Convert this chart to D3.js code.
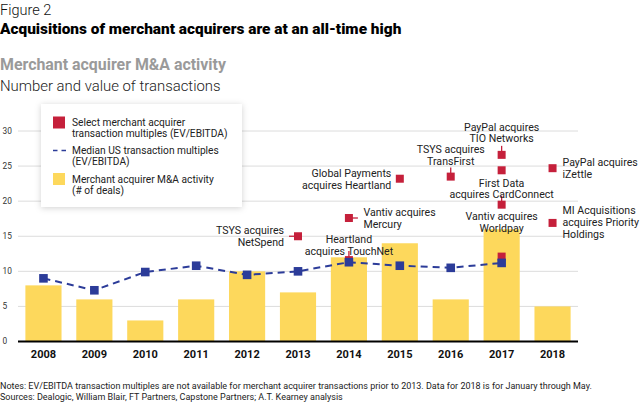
<!DOCTYPE html>
<html>
<head>
<meta charset="utf-8">
<script src="https://cdn.jsdelivr.net/npm/d3@7"></script>
<style>
  body { margin: 0; background: #fff; }
  svg { display: block; font-family: Roboto, "Noto Sans", sans-serif; }
</style>
</head>
<body>
<div class="container"></div>
<script>
// merchant acquirer M&A chart

const years = [2008, 2009, 2010, 2011, 2012, 2013, 2014, 2015, 2016, 2017, 2018];
const deals = [8, 6, 3, 6, 10, 7, 12, 14, 6, 16, 5];
const medianYears = [2008, 2009, 2010, 2011, 2012, 2013, 2014, 2015, 2016, 2017];
const medianValues = [9, 7.3, 9.9, 10.8, 9.5, 10, 11.3, 10.8, 10.5, 11.2];
const yTicks = [0, 5, 10, 15, 20, 25, 30];

// select transaction multiples (EV/EBITDA)
const multYears = [2013, 2014, 2014, 2015, 2016, 2017, 2017, 2017, 2017, 2018, 2018];
const multValues = [15, 11.6, 17.6, 23.2, 23.5, 26.6, 24.4, 19.5, 12.1, 24.7, 16.9];
const multLabels = [
  ["TSYS acquires", "NetSpend"],
  ["Heartland", "acquires TouchNet"],
  ["Vantiv acquires", "Mercury"],
  ["Global Payments", "acquires Heartland"],
  ["TSYS acquires", "TransFirst"],
  ["PayPal acquires", "TIO Networks"],
  [],
  ["First Data", "acquires CardConnect"],
  ["Vantiv acquires", "Worldpay"],
  ["PayPal acquires", "iZettle"],
  ["MI Acquisitions", "acquires Priority", "Holdings"],
];

// label layout for each multiple: side, offsets of first line, leader stub
const labelLayout = [
  { anchor: "end", dx: -14, dy: -5.5, stub: "left" },
  { anchor: "middle", dx: 0, dy: -21, stub: "up" },
  { anchor: "start", dx: 14.5, dy: -5.6, stub: "right" },
  { anchor: "end", dx: -8.5, dy: -5.1, stub: null },
  { anchor: "middle", dx: 0, dy: -27, stub: "up" },
  { anchor: "middle", dx: 0, dy: -28, stub: "up" },
  { anchor: "middle", dx: 0, dy: 0, stub: null },
  { anchor: "middle", dx: 0, dy: -21.7, stub: "up" },
  { anchor: "middle", dx: 0, dy: -40, stub: null },
  { anchor: "start", dx: 10, dy: -5.9, stub: null },
  { anchor: "start", dx: 10, dy: -12.2, stub: null },
];

const w = 640, h = 404;
const red = "#c5203b", blue = "#2c3c99", yellow = "#fdd85c";

const svg = d3.select(".container").append("svg")
  .attr("width", w).attr("height", h);

const defs = svg.append("defs");
defs.append("filter").attr("id", "shadow")
  .attr("x", "-10%").attr("y", "-15%").attr("width", "120%").attr("height", "130%")
  .append("feDropShadow")
  .attr("dx", 0).attr("dy", 1).attr("stdDeviation", 3)
  .attr("flood-color", "#000").attr("flood-opacity", 0.18);

// titles
svg.append("text").attr("x", 0).attr("y", 15).text("Figure 2")
  .attr("font-size", 14.5).attr("font-weight", 300).attr("fill", "#111");
svg.append("text").attr("x", 0).attr("y", 34).text("Acquisitions of merchant acquirers are at an all-time high")
  .attr("font-size", 15.4).attr("font-weight", 900).attr("fill", "#000");
svg.append("text").attr("x", 0).attr("y", 69.5).text("Merchant acquirer M&A activity")
  .attr("font-size", 15.9).attr("font-weight", 700).attr("fill", "#9a9a9a");
svg.append("text").attr("x", 0).attr("y", 90.5).text("Number and value of transactions")
  .attr("font-size", 14.9).attr("font-weight", 300).attr("fill", "#222");

const x = d3.scaleBand().domain(years).range([18, 578])
  .paddingInner(0.29).paddingOuter(0.145);
const y = d3.scaleLinear().domain([0, 30]).range([341.5, 131]);

// grid
svg.append("g").selectAll("line").data(yTicks.filter(d => d > 0)).join("line")
  .attr("x1", 18).attr("x2", 578)
  .attr("y1", d => y(d)).attr("y2", d => y(d))
  .attr("stroke", "#dcdcdc").attr("stroke-width", 1);

svg.append("g").selectAll("text").data(yTicks).join("text")
  .attr("x", 2.5).attr("y", d => y(d)).attr("dy", "0.35em")
  .attr("font-size", 8.3).attr("fill", "#333").text(d => d);

// bars
svg.append("g").selectAll("rect").data(deals).join("rect")
  .attr("x", (d, i) => x(years[i]))
  .attr("width", x.bandwidth())
  .attr("y", d => y(d))
  .attr("height", d => y(0) - y(d))
  .attr("fill", yellow);

// x axis
const xAxis = svg.append("g").attr("transform", `translate(0,${y(0)})`)
  .call(d3.axisBottom(x).tickSize(0).tickPadding(9));
xAxis.select(".domain").attr("stroke", "#000").attr("stroke-width", 2.2)
  .attr("d", "M18,0H578");
xAxis.selectAll("text").attr("font-size", 11).attr("font-weight", 700)
  .attr("fill", "#111").attr("font-family", "Roboto, sans-serif");

const cx = yr => x(yr) + x.bandwidth() / 2;

// select multiples markers, labels and stubs
const ann = svg.append("g");
multValues.forEach((v, i) => {
  const px = cx(multYears[i]), py = y(v), lay = labelLayout[i];
  if (lay.stub === "left") ann.append("line").attr("x1", px - 9).attr("x2", px).attr("y1", py).attr("y2", py);
  if (lay.stub === "right") ann.append("line").attr("x1", px).attr("x2", px + 9).attr("y1", py).attr("y2", py);
  if (lay.stub === "up") ann.append("line").attr("x1", px).attr("x2", px).attr("y1", py - 9).attr("y2", py);
  ann.append("rect").attr("x", px - 4).attr("y", py - 4).attr("width", 8).attr("height", 8).attr("fill", red);
  const t = ann.append("text").attr("font-size", 10.6).attr("fill", "#222")
    .attr("text-anchor", lay.anchor);
  multLabels[i].forEach((line, j) => {
    t.append("tspan").attr("x", px + lay.dx).attr("y", py + lay.dy + j * 11.7)
      .attr("dy", "0.35em").text(line);
  });
});
ann.selectAll("line").attr("stroke", red).attr("stroke-width", 1.3);

// median line
const line = d3.line().x((d, i) => cx(medianYears[i])).y(d => y(d));
svg.append("path").datum(medianValues).attr("d", line)
  .attr("fill", "none").attr("stroke", blue).attr("stroke-width", 2)
  .attr("stroke-dasharray", "7,5");
svg.append("g").selectAll("rect").data(medianValues).join("rect")
  .attr("x", (d, i) => cx(medianYears[i]) - 4.3)
  .attr("y", d => y(d) - 4.3)
  .attr("width", 8.6).attr("height", 8.6).attr("fill", blue);

// legend
const lg = svg.append("g");
lg.append("rect").attr("x", 41).attr("y", 104).attr("width", 201).attr("height", 103)
  .attr("fill", "#fff").attr("filter", "url(#shadow)");
lg.append("rect").attr("x", 53).attr("y", 116.5).attr("width", 12).attr("height", 12).attr("fill", red);
lg.append("line").attr("x1", 53).attr("x2", 66).attr("y1", 150.5).attr("y2", 150.5)
  .attr("stroke", blue).attr("stroke-width", 1.6).attr("stroke-dasharray", "4.5,4");
lg.append("rect").attr("x", 53).attr("y", 173).attr("width", 12).attr("height", 12).attr("fill", yellow);
const legendText = [
  ["Select merchant acquirer", "transaction multiples (EV/EBITDA)"],
  ["Median US transaction multiples", "(EV/EBITDA)"],
  ["Merchant acquirer M&A activity", "(# of deals)"],
];
const legendY = [122.7, 150, 179];
legendText.forEach((lines, i) => {
  const t = lg.append("text").attr("font-size", 10.2).attr("fill", "#222");
  lines.forEach((s, j) => t.append("tspan").attr("x", 72).attr("y", legendY[i] + j * 11)
    .attr("dy", "0.35em").text(s));
});

// notes
svg.append("text").attr("x", 0).attr("y", 388.5).attr("font-size", 9).attr("fill", "#222")
  .text("Notes: EV/EBITDA transaction multiples are not available for merchant acquirer transactions prior to 2013. Data for 2018 is for January through May.");
svg.append("text").attr("x", 0).attr("y", 400).attr("font-size", 9).attr("fill", "#222")
  .text("Sources: Dealogic, William Blair, FT Partners, Capstone Partners; A.T. Kearney analysis");
</script>
</body>
</html>
